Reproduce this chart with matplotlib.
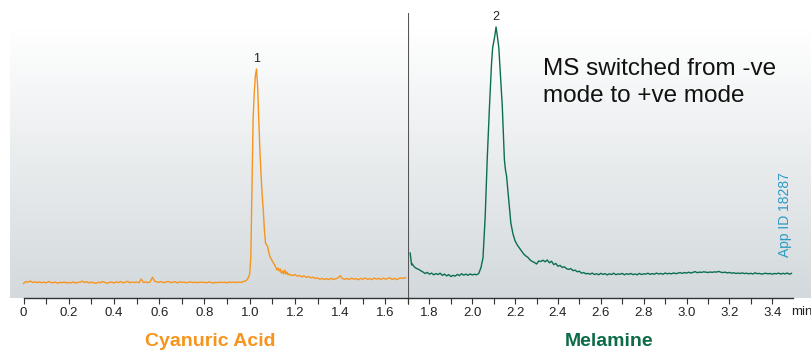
import numpy as np
import matplotlib
matplotlib.use("Agg")
import matplotlib.pyplot as plt
from matplotlib.ticker import MultipleLocator

plt.rcParams['font.family'] = ['Liberation Sans', 'DejaVu Sans']

# Cyanuric acid trace (negative mode), time in min, signal in arbitrary units
cya_base_t = np.round(np.arange(0.0, 1.0, 0.01), 2)
cya_base = [14.5, 16.5, 15.8, 17.0, 15.5, 16.2, 15.4, 16.0, 15.3, 15.9,
            15.1, 16.4, 15.6, 15.2, 16.0, 14.8, 15.7, 15.3, 16.1, 15.0,
            15.5, 15.1, 16.2, 14.9, 15.6, 15.8, 16.9, 15.4, 16.3, 15.0,
            16.0, 15.2, 14.6, 15.9, 15.3, 16.4, 15.5, 14.7, 15.6, 15.9,
            15.0, 16.2, 15.4, 16.5, 15.1, 15.8, 16.7, 15.3, 15.9, 15.5,
            16.0, 15.2, 18.9, 15.6, 16.1, 15.3, 16.2, 20.8, 16.8, 16.0,
            15.7, 16.4, 15.3, 16.0, 16.6, 15.4, 15.9, 16.3, 15.1, 16.2,
            15.6, 16.0, 15.2, 15.8, 16.1, 15.4, 15.9, 15.3, 16.0, 15.5,
            15.8, 15.2, 16.1, 15.5, 15.0, 15.7, 15.3, 16.0, 15.4, 15.8,
            15.2, 16.0, 15.6, 15.9, 15.4, 16.1, 15.5, 16.3, 16.9, 18.5]
cya_peak_t = [1.000, 1.005, 1.010, 1.015, 1.020, 1.025, 1.030, 1.035, 1.040, 1.045,
              1.050, 1.055, 1.060, 1.065, 1.070, 1.075, 1.080, 1.085, 1.090, 1.095,
              1.100, 1.105, 1.110, 1.115, 1.120, 1.125, 1.130, 1.135, 1.140, 1.145,
              1.150, 1.155, 1.160, 1.165, 1.170, 1.175, 1.180]
cya_peak = [24, 41, 110, 178, 205, 222, 229, 212, 178, 148,
            124, 103, 88, 68, 55, 53, 51, 45, 41, 39,
            37, 35, 33, 31, 28, 30, 27, 29, 25, 27,
            24, 28, 24, 26, 23, 24, 23]
cya_tail_t = np.round(np.arange(1.19, 1.695, 0.01), 2)
cya_tail = [22.5, 23.5, 21.8, 22.6, 21.0, 22.2, 20.6, 21.5, 20.2, 20.8,
            19.5, 20.1, 18.8, 19.6, 18.5, 19.3, 18.4, 19.7, 18.6, 19.2,
            20.0, 22.3, 19.4, 18.7, 19.5, 18.6, 19.8, 18.9, 19.4, 18.2,
            19.6, 18.8, 20.1, 18.7, 19.3, 18.4, 19.9, 19.0, 19.6, 18.5,
            19.8, 18.9, 19.4, 20.2, 18.6, 19.7, 18.3, 19.5, 20.0, 19.6,
            20.3]

# Melamine trace (positive mode)
mel_front_t = [1.710, 1.713, 1.717, 1.720, 1.730, 1.740, 1.750, 1.760, 1.770, 1.780,
               1.790, 1.800, 1.810, 1.820, 1.830, 1.840, 1.850, 1.860, 1.870, 1.880,
               1.890, 1.900, 1.910, 1.920, 1.930, 1.940, 1.950, 1.960, 1.970, 1.980,
               1.990, 2.000, 2.010, 2.020, 2.030]
mel_front = [45, 40, 33, 34, 31, 29.5, 28.6, 27.2, 26.0, 24.5,
             25.6, 23.8, 24.9, 23.2, 24.4, 23.5, 24.8, 22.6, 23.9, 22.1,
             23.4, 21.5, 22.6, 21.9, 23.6, 22.4, 24.3, 22.8, 23.9, 22.7,
             24.1, 23.0, 23.8, 23.2, 24.5]
mel_peak_t = [2.040, 2.050, 2.060, 2.070, 2.080, 2.090, 2.095, 2.100, 2.105, 2.111,
              2.117, 2.124, 2.130, 2.140, 2.150, 2.155, 2.160, 2.170, 2.180, 2.190,
              2.200, 2.210, 2.220, 2.230, 2.240, 2.250, 2.260, 2.270, 2.280, 2.290,
              2.300, 2.310, 2.320, 2.330, 2.340, 2.350, 2.360, 2.370, 2.380, 2.390,
              2.400, 2.410, 2.420, 2.430, 2.440, 2.450, 2.460, 2.470, 2.480, 2.490,
              2.500, 2.510, 2.520, 2.530]
mel_peak = [30, 40, 80, 140, 190, 235, 250, 256, 262, 271,
            262, 250, 228, 192, 138, 128, 122, 98, 75, 64,
            57, 53, 50, 47, 44, 42, 40.5, 38, 36.5, 35.5,
            34, 37, 36.5, 37.8, 36.2, 38.0, 35.2, 36.8, 33.4, 34.5,
            31.8, 32.6, 30.5, 31.2, 29.3, 28.6, 29.4, 27.3, 27.9, 26.2,
            26.8, 24.8, 25.5, 24.2]
mel_tail_t = np.round(np.arange(2.54, 3.495, 0.01), 2)
mel_tail = [24.6, 23.8, 24.9, 23.5, 24.3, 23.2, 24.7, 23.6, 24.4, 23.1,
            24.2, 23.5, 24.8, 23.3, 24.1, 23.7, 24.6, 23.2, 24.3, 23.6,
            24.5, 23.4, 24.0, 23.2, 24.6, 23.5, 24.2, 23.9, 24.8, 23.6,
            24.4, 23.8, 24.9, 24.0, 24.6, 23.7, 25.0, 24.2, 24.7, 24.1,
            25.1, 24.3, 24.8, 25.4, 24.6, 25.5, 24.9, 25.8, 25.0, 25.6,
            26.4, 25.3, 25.9, 25.6, 26.2, 25.8, 25.5, 26.0, 25.7, 26.1,
            25.9, 26.6, 25.8, 25.4, 25.9, 25.1, 25.6, 24.8, 25.2, 24.6,
            24.9, 24.5, 25.1, 24.4, 24.8, 24.2, 24.7, 24.0, 25.2, 24.3,
            24.6, 23.9, 24.4, 24.8, 24.1, 24.6, 23.8, 24.5, 24.2, 24.9,
            23.9, 24.7, 24.1, 25.0, 23.8, 24.6]

cya_t = np.concatenate([cya_base_t, cya_peak_t, cya_tail_t])
cya_y = np.concatenate([cya_base, cya_peak, cya_tail])
mel_t = np.concatenate([mel_front_t, mel_peak_t, mel_tail_t])
mel_y = np.concatenate([mel_front, mel_peak, mel_tail])

SWITCH = 1.70
ORANGE = "#f7941d"
GREEN = "#0b6e4f"
W, H = 812.0, 350.0

fig = plt.figure(figsize=(8.12, 3.5), dpi=100)

# gradient panel behind both traces
bg = fig.add_axes([10 / W, 52 / H, 802 / W, 270 / H], zorder=0)
grad = np.linspace(0, 1, 256).reshape(-1, 1)
top = np.array([1.0, 1.0, 1.0])
bot = np.array([0.827, 0.851, 0.863])
img = top + (bot - top) * grad[:, :, None]
bg.imshow(img, aspect='auto', extent=[0, 1, 0, 1])
bg.set_axis_off()

axL = fig.add_axes([10 / W, 52 / H, 398 / W, 285 / H], zorder=1)
axR = fig.add_axes([408 / W, 52 / H, 385 / W, 285 / H], zorder=1)

axL.plot(cya_t, cya_y, color=ORANGE, lw=1.0)
axR.plot(mel_t, mel_y, color=GREEN, lw=1.0)

axL.set_xlim(-0.06, SWITCH)
axR.set_xlim(SWITCH, 3.497)
axL.spines['bottom'].set_bounds(0, SWITCH)
for ax, ticks in ((axL, np.arange(0, 1.61, 0.2)), (axR, np.arange(1.8, 3.41, 0.2))):
    ax.set_facecolor('none')
    ax.set_ylim(0, 285)
    ax.set_yticks([])
    for s in ('top', 'right', 'left'):
        ax.spines[s].set_visible(False)
    ax.spines['bottom'].set_color('#333333')
    ax.spines['bottom'].set_linewidth(1.0)
    ax.set_xticks(ticks)
    ax.set_xticklabels(["%.1f" % t if t > 0.01 else "0" for t in ticks])
    ax.xaxis.set_minor_locator(MultipleLocator(0.1))
    ax.tick_params(axis='x', which='both', direction='out', length=4, width=0.8,
                   color='#333333', labelsize=9.5, labelcolor='#222222', pad=2.5)

axR.axvline(SWITCH, color='#555555', lw=1.5)

axL.text(1.03, 233, "1", ha='center', va='bottom', fontsize=9, color='#222222')
axR.text(2.111, 275, "2", ha='center', va='bottom', fontsize=9, color='#222222')

fig.text(543 / W, 1 - 58 / H, "MS switched from -ve\nmode to +ve mode", ha='left', va='top',
         fontsize=17.5, color='#111111', linespacing=1.28)
fig.text(785 / W, 1 - 215 / H, "App ID 18287", rotation=90, ha='center', va='center',
         fontsize=10, color='#2b9ac4')
fig.text(802 / W, 1 - 312 / H, "min", ha='center', va='center', fontsize=9.5, color='#222222')
fig.text(210 / W, 1 - 342 / H, "Cyanuric Acid", ha='center', va='center', fontsize=14,
         fontweight='bold', color=ORANGE)
fig.text(609 / W, 1 - 342 / H, "Melamine", ha='center', va='center', fontsize=14,
         fontweight='bold', color='#0d6b47')

fig.savefig("out.png", dpi=100)
